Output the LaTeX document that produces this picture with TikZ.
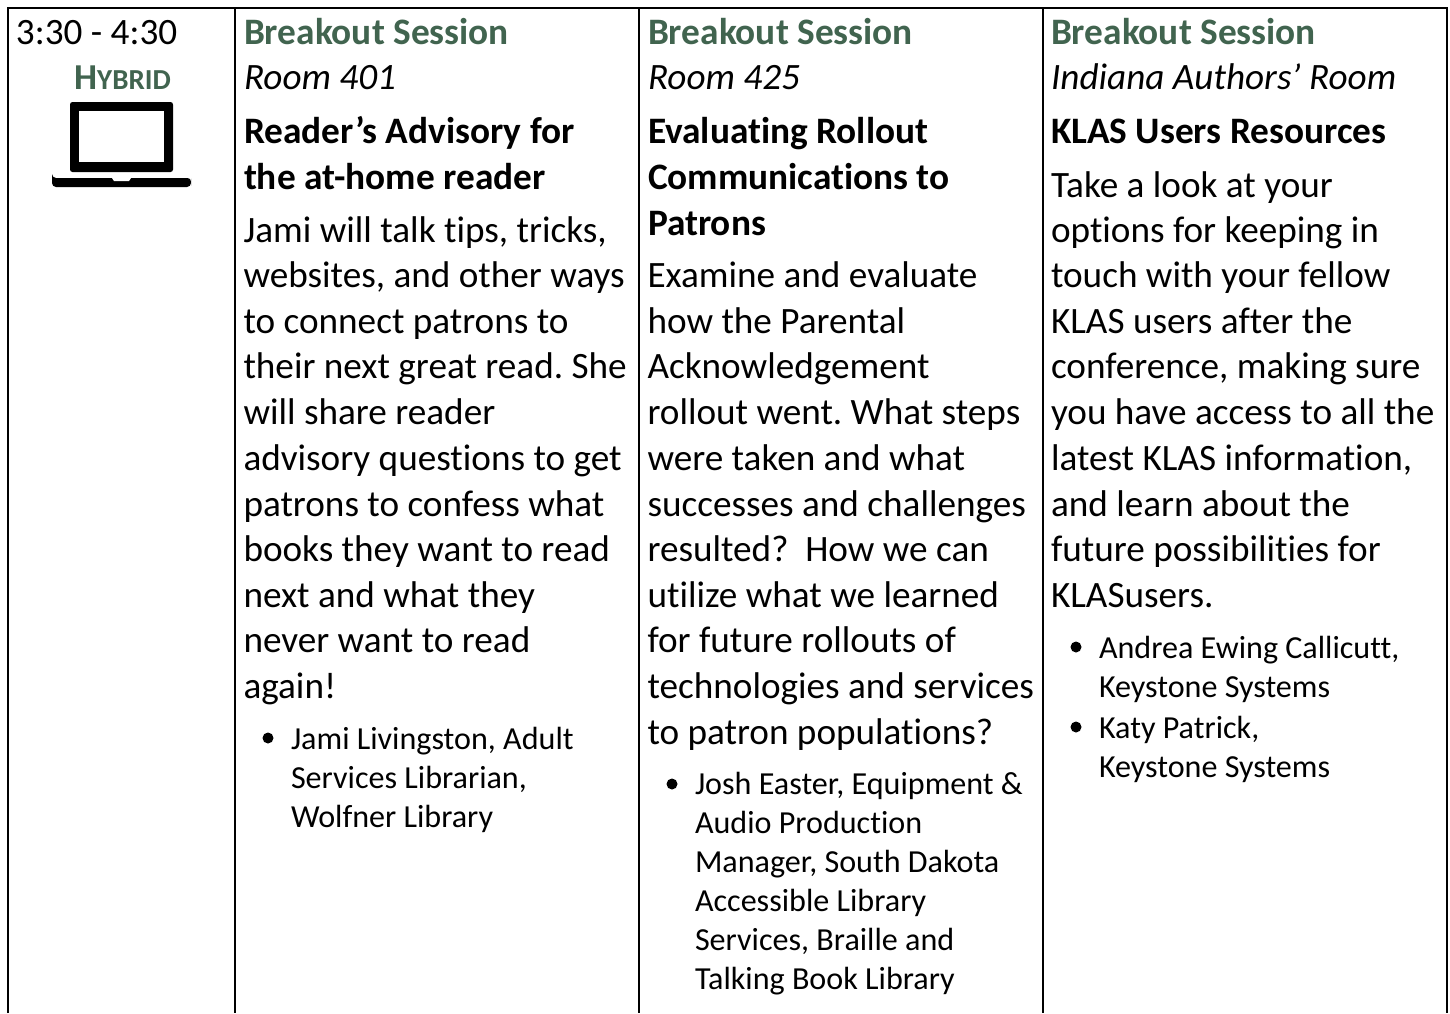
\documentclass[tikz,border=0pt]{standalone}
\usepackage{fontspec}
\setmainfont[Ligatures=NoCommon]{Carlito}
\frenchspacing
\definecolor{hd}{HTML}{41644F}
\newcommand{\B}[2]{\fontsize{#1}{#1}\selectfont #2}
\tikzset{x=1pt,y=-1pt,
 ln/.style={anchor=base west,inner sep=0pt,outer sep=0pt,font=\fontsize{37.2}{37.2}\selectfont},
 hdt/.style={ln,text=hd,font=\fontsize{37.33}{37.33}\selectfont\bfseries},
 rm/.style={ln,font=\fontsize{37.2}{37.2}\selectfont\itshape},
 ttl/.style={ln,font=\fontsize{37.33}{37.33}\selectfont\bfseries},
 bl/.style={ln,font=\fontsize{32.1}{32.1}\selectfont},
 rule/.style={line width=2.6pt,black}}
\newcommand{\Lines}[3]{\foreach \yy/\tt in {#3} {\node[#1] at (#2,\yy) {\tt};}}
\newcommand{\Dot}[2]{\fill (#1,#2) circle (5.5);}
\begin{document}
\begin{tikzpicture}
\useasboundingbox (0,0) rectangle (1450,1013);
\fill[white] (0,0) rectangle (1450,1013);
\draw[rule] (8,1013) -- (8,8) -- (1447,8) -- (1447,1013);
\draw[rule] (235,8) -- (235,1013);
\draw[rule] (639,8) -- (639,1013);
\draw[rule] (1043,8) -- (1043,1013);
% time cell
\node[ln] at (16,44) {3:30 - 4:30};
\node[anchor=base,inner sep=0pt,text=hd,font=\bfseries] at (122.5,89) {\B{36.5}{H}\B{29}{YBRID}};
% laptop
\fill[rounded corners=2.5] (70,102) rectangle (173,172);
\fill[white] (79,111) rectangle (164,162);
\fill[rounded corners=3.5] (52,178) -- (191,178) -- (191,182) [rounded corners=4] -- (191,187) -- (52,187) -- (52,178) -- cycle;
\fill[white] (112,178) -- (131,178) -- (129,181) -- (114,181) -- cycle;
% column 1
\Lines{hdt}{244}{44.5/Breakout Session}
\Lines{rm}{244}{89.5/Room 401}
\Lines{ttl}{244}{143/Reader’s Advisory for,189/the at-home reader}
\Lines{ln}{243.5}{242/{Jami will talk tips, tricks,},287/{websites, and other ways},333/to connect patrons to,378/their next great read. She,424/will share reader,470/advisory questions to get,516/patrons to confess what,561/books they want to read,607/next and what they,652/never want to read,698/again!}
\Dot{268}{738}
\Lines{bl}{291}{749/{Jami Livingston, Adult},788/{Services Librarian,},827/Wolfner Library}
% column 2
\Lines{hdt}{648}{44.5/Breakout Session}
\Lines{rm}{648}{89.5/Room 425}
\Lines{ttl}{648}{143/Evaluating Rollout,189/Communications to,235/Patrons}
\Lines{ln}{647.5}{287/Examine and evaluate,333/how the Parental,378/Acknowledgement,424/rollout went. What steps,470/were taken and what,516/successes and challenges,561/resulted?\ \ How we can,607/utilize what we learned,652/for future rollouts of,698/technologies and services,744/to patron populations?}
\Dot{672}{784}
\Lines{bl}{695}{794.5/Josh Easter{,} Equipment \&,833.5/Audio Production,872.5/{Manager, South Dakota},911.5/Accessible Library,950.5/{Services, Braille and},989.5/Talking Book Library}
% column 3
\Lines{hdt}{1051}{44.5/Breakout Session}
\Lines{rm}{1051}{89.5/Indiana Authors’ Room}
\Lines{ttl}{1051}{143/KLAS Users Resources}
\Lines{ln}{1051}{197/Take a look at your,242/options for keeping in,287/touch with your fellow,333/KLAS users after the,378/{conference, making sure},424/you have access to all the,470/{latest KLAS information,},516/and learn about the,561/future possibilities for,607/KLASusers.}
\Dot{1076}{647}
\Lines{bl}{1099}{658/{Andrea Ewing Callicutt,},697/Keystone Systems}
\Dot{1076}{727}
\Lines{bl}{1099}{738/{Katy Patrick,},777/Keystone Systems}
\end{tikzpicture}
\end{document}
